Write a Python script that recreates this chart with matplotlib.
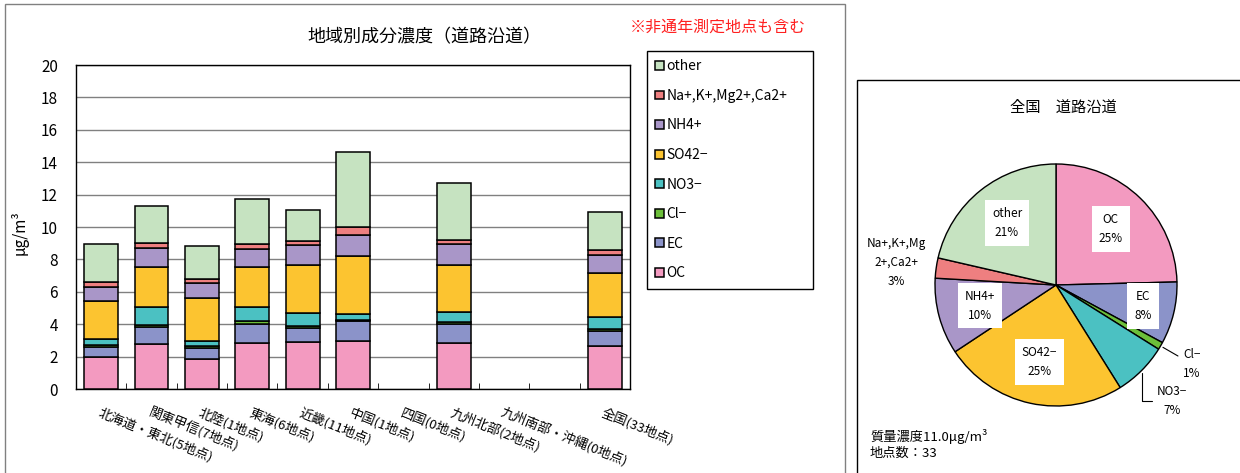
import numpy as np
import matplotlib
matplotlib.use('Agg')
import matplotlib.pyplot as plt
from matplotlib.patches import Rectangle

plt.rcParams['font.family'] = ['Noto Sans CJK JP', 'DejaVu Sans']

# regions (one empty slot before 全国, as in the source sheet)
regions = ['北海道・東北(5地点)', '関東甲信(7地点)', '北陸(1地点)', '東海(6地点)',
           '近畿(11地点)', '中国(1地点)', '四国(0地点)', '九州北部(2地点)',
           '九州南部・沖縄(0地点)', '', '全国(33地点)']

# component concentrations (ug/m3)
oc    = [2.00, 2.78, 1.85, 2.86, 2.92, 2.99, 0, 2.82, 0, 0, 2.66]
ec    = [0.62, 1.07, 0.70, 1.16, 0.83, 1.21, 0, 1.20, 0, 0, 0.90]
cl    = [0.12, 0.13, 0.13, 0.18, 0.14, 0.06, 0, 0.12, 0, 0, 0.17]
no3   = [0.35, 1.11, 0.27, 0.89, 0.83, 0.35, 0, 0.62, 0, 0, 0.74]
so4   = [2.35, 2.47, 2.65, 2.43, 2.94, 3.63, 0, 2.88, 0, 0, 2.68]
nh4   = [0.88, 1.17, 0.97, 1.11, 1.22, 1.26, 0, 1.32, 0, 0, 1.13]
na    = [0.31, 0.27, 0.25, 0.29, 0.27, 0.47, 0, 0.23, 0, 0, 0.31]
other = [2.31, 2.29, 2.02, 2.78, 1.91, 4.67, 0, 3.52, 0, 0, 2.35]

components = ['OC', 'EC', 'Cl−', 'NO3−', 'SO42−', 'NH4+', 'Na+,K+,Mg2+,Ca2+', 'other']
colors = ['#F39AC0', '#8B93C9', '#6CBF3A', '#4BC1C2', '#FCC430', '#A996C8', '#EE7F80', '#C6E3C1']

# nationwide composition for the pie (%)
pie_names = ['OC', 'EC', 'Cl−', 'NO3−', 'SO42−', 'NH4+', 'Na+,K+,Mg\n2+,Ca2+', 'other']
pie_share = [24.6, 8.3, 1.0, 7.2, 24.6, 10.2, 2.7, 21.4]

fig = plt.figure(figsize=(12.4, 4.73), dpi=100)
W, H = 1240, 473

# panel frames
fig.patches.append(Rectangle((5 / W, -0.1), 840 / W, 1.1 - 4 / H, transform=fig.transFigure,
                             fill=False, edgecolor='#808080', linewidth=1))
fig.patches.append(Rectangle((857 / W, -0.1), 0.4, 1.1 - 80 / H, transform=fig.transFigure,
                             fill=False, edgecolor='black', linewidth=1))

# ---- stacked bar chart ----
ax = fig.add_axes([76 / W, 1 - 389 / H, 554 / W, 324 / H])
x = np.arange(len(regions))
bottom = np.zeros(len(regions))
series = [oc, ec, cl, no3, so4, nh4, na, other]
for vals, name, c in zip(series, components, colors):
    lw = [1.1 if v > 0 else 0 for v in vals]
    ax.bar(x, vals, 0.67, bottom=bottom, color=c, edgecolor='black', linewidth=lw,
           label=name, zorder=3)
    bottom += np.array(vals)

ax.set_ylim(0, 20)
ax.set_yticks(range(0, 21, 2))
ax.yaxis.grid(True, color='#808080', linewidth=1)
ax.set_axisbelow(True)
ax.set_xlim(-0.5, len(regions) - 0.5)
ax.set_xticks(x)
ax.set_xticklabels(regions, fontsize=9.5, rotation=-22, ha='left', va='top',
                   rotation_mode='anchor')
ax.set_xticks(np.arange(-0.5, len(regions)), minor=True)
ax.tick_params(axis='x', which='major', length=0, pad=12)
ax.tick_params(axis='x', which='minor', length=4, direction='in')
ax.tick_params(axis='y', length=0, pad=13, labelsize=11)
for sp in ax.spines.values():
    sp.set_color('black')
    sp.set_linewidth(1)

fig.text(20 / W, 1 - 233 / H, 'μg/m³', rotation=90, ha='center', va='center', fontsize=11)
fig.text(424 / W, 1 - 37 / H, '地域別成分濃度（道路沿道）', ha='center', va='center', fontsize=13)
fig.text(718 / W, 1 - 27 / H, '※非通年測定地点も含む', ha='center', va='center',
         fontsize=11.5, color='#FF2020')

handles, labels = ax.get_legend_handles_labels()
leg = fig.legend(handles[::-1], labels[::-1], loc='upper left',
                 bbox_to_anchor=(647 / W, 1 - 289 / H, 166 / W, 238 / H), mode='expand',
                 borderaxespad=0, fontsize=10, frameon=True, fancybox=False,
                 edgecolor='black', framealpha=1, handlelength=0.6, handleheight=0.6,
                 handletextpad=0.2, labelspacing=1.12, borderpad=0.6)
leg.get_frame().set_linewidth(1)

# ---- pie chart ----
pax = fig.add_axes([898.7 / W, 30.7 / H, 314.6 / W, 314.6 / H])
wedges, _ = pax.pie(pie_share, colors=colors, startangle=90, counterclock=False,
                    wedgeprops=dict(edgecolor='black', linewidth=1))
pax.set_xlim(-1.3, 1.3)
pax.set_ylim(-1.3, 1.3)
pax.set_aspect('equal')

for w, name, share in zip(wedges, pie_names, pie_share):
    ang = np.deg2rad((w.theta1 + w.theta2) / 2)
    cx, cy = np.cos(ang), np.sin(ang)
    txt = f'{name}\n{round(share)}%'
    if share >= 8:
        r = 0.74 if share < 10 else 0.65
        pax.text(r * cx, r * cy, txt, ha='center', va='center', fontsize=8.5,
                 linespacing=1.6, bbox=dict(facecolor='white', edgecolor='none', pad=5))
    elif name == 'Cl−':
        pax.annotate(txt, xy=(cx, cy), xytext=(1.3 * cx, 1.3 * cy), ha='center',
                     va='center', fontsize=8.5, linespacing=1.6,
                     arrowprops=dict(arrowstyle='-', color='black', linewidth=0.8,
                                     connectionstyle='angle,angleA=0,angleB=-30'))
    elif name == 'NO3−':
        pax.annotate(txt, xy=(cx, cy), xytext=(1.36 * cx, 1.36 * cy), ha='center',
                     va='center', fontsize=8.5, linespacing=1.6,
                     arrowprops=dict(arrowstyle='-', color='black', linewidth=0.8,
                                     connectionstyle='angle,angleA=0,angleB=90'))
    else:
        pax.text(1.33 * cx, 1.33 * cy, txt, ha='center', va='center', fontsize=8.5,
                 linespacing=1.6)

fig.text(1063 / W, 1 - 107 / H, '全国　道路沿道', ha='center', va='center', fontsize=11)
fig.text(870 / W, 1 - 436 / H, '質量濃度11.0μg/m³', va='center', fontsize=9.5)
fig.text(870 / W, 1 - 453 / H, '地点数：33', va='center', fontsize=9.5)

fig.savefig('out.png', dpi=100)
